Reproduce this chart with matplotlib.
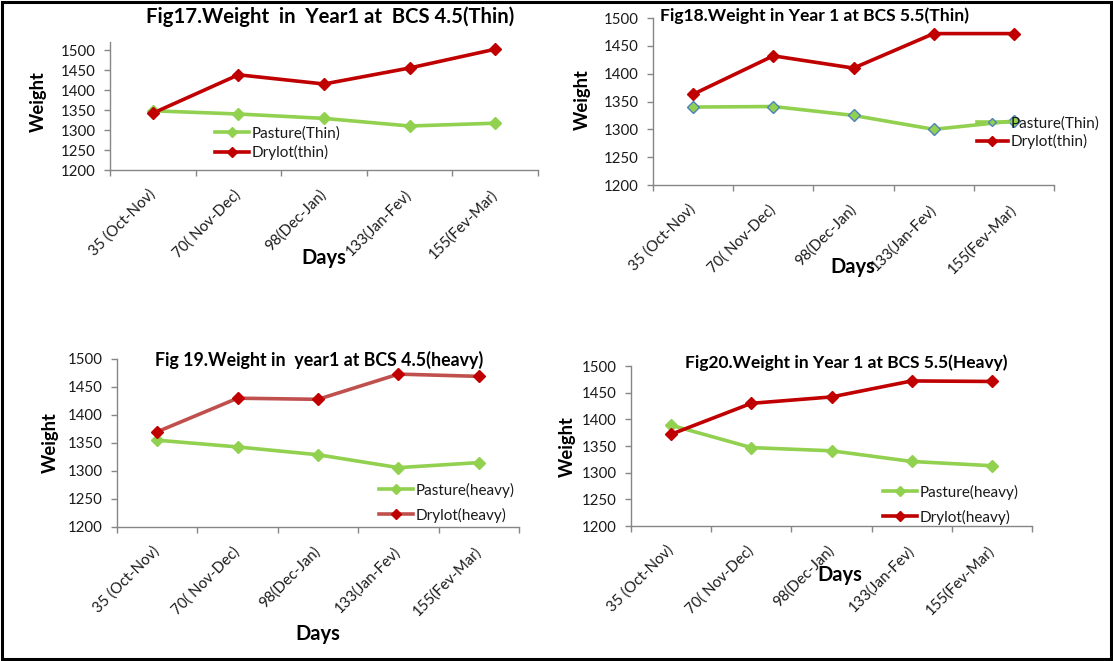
import numpy as np
import matplotlib
matplotlib.use("Agg")
import matplotlib.pyplot as plt
from matplotlib.lines import Line2D
from matplotlib.patches import Rectangle

plt.rcParams['font.family'] = ['Lato', 'DejaVu Sans']

# ---- data ----
days = ["35 (Oct-Nov)", "70( Nov-Dec)", "98(Dec-Jan)", "133(Jan-Fev)", "155(Fev-Mar)"]
y_ticks = [1200, 1250, 1300, 1350, 1400, 1450, 1500]

fig17_pasture = [1348, 1340, 1329, 1310, 1317]
fig17_drylot = [1342, 1438, 1415, 1455, 1502]
fig18_pasture = [1340, 1341, 1325, 1300, 1315]
fig18_drylot = [1363, 1432, 1410, 1472, 1472]
fig19_pasture = [1355, 1343, 1329, 1306, 1315]
fig19_drylot = [1370, 1430, 1428, 1473, 1469]
fig20_pasture = [1389, 1347, 1341, 1321, 1313]
fig20_drylot = [1372, 1430, 1442, 1472, 1471]

W, H = 1113, 661
fig = plt.figure(figsize=(W / 100, H / 100), dpi=100)

GREEN = '#92D050'
RED = '#C00000'
AXIS_GRAY = '#868686'
TXT = '#1a1a1a'

TICK_FS = 10.8
LEG_FS = 11
YLAB_FS = 13.2
DAYS_FS = 14.5


def px_axes(left, right, top, bottom):
    return fig.add_axes([left / W, 1 - bottom / H, (right - left) / W, (bottom - top) / H])


def style_axes(ax, ytop):
    x = np.arange(len(days))
    ax.set_xlim(-0.5, len(days) - 0.5)
    ax.set_ylim(1200, ytop)
    ax.set_yticks(y_ticks)
    ax.set_xticks(np.arange(-0.5, len(days)), labels=[])
    ax.set_xticks(x, labels=days, minor=True)
    for s in ('top', 'right'):
        ax.spines[s].set_visible(False)
    for s in ('left', 'bottom'):
        ax.spines[s].set_color(AXIS_GRAY)
        ax.spines[s].set_linewidth(1.0)
    ax.tick_params(axis='y', length=4, width=1, color=AXIS_GRAY, pad=6,
                   labelsize=TICK_FS, labelcolor=TXT)
    ax.tick_params(axis='x', which='major', length=4, width=1, color=AXIS_GRAY)
    ax.tick_params(axis='x', which='minor', length=0, pad=16,
                   labelsize=TICK_FS, labelcolor=TXT)
    for lab in ax.get_xticklabels(minor=True):
        lab.set_rotation(45)
        lab.set_ha('right')
        lab.set_va('center')
        lab.set_rotation_mode('anchor')
    ax.patch.set_alpha(0)


def add_texts(title, title_fs, tpos, ypos, dpos):
    fig.text(tpos[0] / W, 1 - tpos[1] / H, title, ha='center', va='center',
             fontsize=title_fs, fontweight='bold')
    fig.text(ypos[0] / W, 1 - ypos[1] / H, 'Weight', ha='center', va='center',
             rotation=90, fontsize=YLAB_FS, fontweight='bold')
    fig.text(dpos[0] / W, 1 - dpos[1] / H, 'Days', ha='center', va='center',
             fontsize=DAYS_FS, fontweight='bold')


def add_legend(ax, handles, labels, pos, spacing, hlen=2.2):
    ax.legend(handles, labels, loc='center left',
              bbox_to_anchor=(pos[0] / W, 1 - pos[1] / H),
              bbox_transform=fig.transFigure, frameon=False, borderpad=0,
              borderaxespad=0, handlelength=hlen, handletextpad=0.2,
              labelspacing=spacing, fontsize=LEG_FS, labelcolor=TXT)


x = np.arange(len(days))
MS = 6.3
LW = 2.6

# Fig17
ax = px_axes(110, 538, 42, 170)
style_axes(ax, 1520)
ax.plot(x, fig17_pasture, color=GREEN, lw=LW, marker='D', ms=MS, clip_on=False)
ax.plot(x, fig17_drylot, color=RED, lw=LW, marker='D', ms=MS, clip_on=False)
hp = Line2D([], [], color=GREEN, lw=LW, marker='D', ms=5)
hd = Line2D([], [], color=RED, lw=LW, marker='D', ms=5)
add_legend(ax, [hp, hd], ['Pasture(Thin)', 'Drylot(thin)'], (215, 143), 0.3)
add_texts('Fig17.Weight  in  Year1 at  BCS 4.5(Thin)', 14.6, (330, 17), (38, 102), (324, 258))

# Fig18
ax = px_axes(653, 1054, 18, 185)
style_axes(ax, 1500)
ax.plot(x, fig18_pasture, color=GREEN, lw=LW, marker='D', ms=MS,
        mfc=GREEN, mec='#4F81BD', mew=1.0, clip_on=False)
ax.plot(x, fig18_drylot, color=RED, lw=LW, marker='D', ms=MS, clip_on=False)
hp = Line2D([], [], color=GREEN, lw=LW, marker='D', ms=4.5, mfc=GREEN,
            mec='#4F81BD', mew=1.0)
hd = Line2D([], [], color=RED, lw=LW, marker='D', ms=5)
add_legend(ax, [hp, hd], ['Pasture(Thin)', 'Drylot(thin)'], (977, 132.5), 0.25, hlen=2.0)
add_texts('Fig18.Weight in Year 1 at BCS 5.5(Thin)', 12.6, (815, 16), (582, 100), (853, 267))

# Fig19
ax = px_axes(117, 519, 359, 527)
style_axes(ax, 1500)
ax.plot(x, fig19_pasture, color=GREEN, lw=LW, marker='D', ms=MS, clip_on=False)
ax.plot(x, fig19_drylot, color='#C0504D', lw=LW, marker='D', ms=MS,
        mfc=RED, mec=RED, clip_on=False)
hp = Line2D([], [], color=GREEN, lw=LW, marker='D', ms=5)
hd = Line2D([], [], color='#C0504D', lw=LW, marker='D', ms=5, mfc=RED, mec=RED)
add_legend(ax, [hp, hd], ['Pasture(heavy)', 'Drylot(heavy)'], (379, 502.5), 0.65)
add_texts('Fig 19.Weight in  year1 at BCS 4.5(heavy)', 12.8, (319, 360), (50, 443), (318, 634))

# Fig20
ax = px_axes(631, 1032, 366, 526)
style_axes(ax, 1500)
ax.plot(x, fig20_pasture, color=GREEN, lw=LW, marker='D', ms=MS, clip_on=False)
ax.plot(x, fig20_drylot, color=RED, lw=LW, marker='D', ms=MS, clip_on=False)
hp = Line2D([], [], color=GREEN, lw=LW, marker='D', ms=5)
hd = Line2D([], [], color=RED, lw=LW, marker='D', ms=5)
add_legend(ax, [hp, hd], ['Pasture(heavy)', 'Drylot(heavy)'], (883, 504.5), 0.65)
add_texts('Fig20.Weight in Year 1 at BCS 5.5(Heavy)', 12.5, (846, 363), (567, 447), (840, 575))

# outer frame
fig.patches.append(Rectangle((2 / W, 2 / H), 1109 / W, 657 / H, transform=fig.transFigure,
                             fill=False, edgecolor='black', linewidth=2.2))

fig.savefig('out.png', dpi=100)
